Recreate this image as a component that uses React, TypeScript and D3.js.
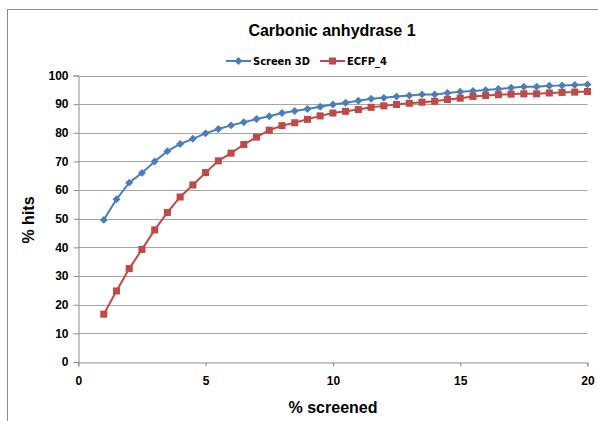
import React, { useRef, useEffect } from 'react';
import * as d3 from 'd3';

const screened = [1, 1.5, 2, 2.5, 3, 3.5, 4, 4.5, 5, 5.5, 6, 6.5, 7, 7.5, 8, 8.5, 9, 9.5, 10,
    10.5, 11, 11.5, 12, 12.5, 13, 13.5, 14, 14.5, 15, 15.5, 16, 16.5, 17, 17.5, 18, 18.5, 19, 19.5, 20];

const screen3D = [49.6, 56.8, 62.6, 66.0, 70.0, 73.6, 76.1, 77.9, 79.8, 81.3, 82.6, 83.7, 84.8, 85.8, 86.9, 87.6, 88.3, 89.1, 89.9,
    90.5, 91.2, 91.9, 92.2, 92.7, 93.0, 93.4, 93.4, 93.9, 94.3, 94.6, 94.9, 95.3, 95.7, 96.1, 96.1, 96.4, 96.5, 96.7, 96.9];

const ecfp4 = [16.7, 24.8, 32.6, 39.3, 46.1, 52.2, 57.6, 61.8, 66.1, 70.2, 72.9, 75.9, 78.5, 80.9, 82.5, 83.5, 84.7, 85.9, 86.9,
    87.5, 88.1, 88.9, 89.4, 89.9, 90.3, 90.7, 91.0, 91.6, 92.1, 92.7, 93.0, 93.3, 93.5, 93.6, 93.6, 93.9, 94.1, 94.2, 94.4];

const xTicks = [0, 5, 10, 15, 20];
const yTicks = [0, 10, 20, 30, 40, 50, 60, 70, 80, 90, 100];

const seriesNames = ['Screen 3D', 'ECFP_4'];
const seriesColors = ['#4a7ebb', '#be4b48'];

const W = 598;
const H = 421;

const App: React.FC = () => {
    const svgRef = useRef<SVGSVGElement | null>(null);

    useEffect(() => {
        const svg = d3.select(svgRef.current);
        svg.selectAll('*').remove();

        const x = d3.scaleLinear().domain([0, 20]).range([78.3, 587.5]);
        const y = d3.scaleLinear().domain([0, 100]).range([362, 75.5]);

        // chart frame
        svg.append('rect')
            .attr('x', 7.5).attr('y', 9.5)
            .attr('width', 620).attr('height', 440)
            .attr('fill', 'white')
            .attr('stroke', '#8c8c8c')
            .attr('stroke-width', 1);

        // gridlines
        svg.append('g')
            .selectAll('line')
            .data(yTicks.filter(t => t > 0))
            .enter().append('line')
            .attr('x1', x(0)).attr('x2', x(20))
            .attr('y1', d => Math.round(y(d)) + 0.5)
            .attr('y2', d => Math.round(y(d)) + 0.5)
            .attr('stroke', '#a6a6a6')
            .attr('stroke-width', 1);

        const tickFont = 'Arial, "Liberation Sans", sans-serif';

        // y axis
        const yAxis = d3.axisLeft(y).tickValues(yTicks).tickSize(5).tickPadding(5).tickFormat(d3.format('d'));
        const gy = svg.append('g')
            .attr('transform', `translate(${Math.round(x(0)) + 0.5},0)`)
            .call(yAxis);
        gy.select('.domain').attr('stroke', '#8c8c8c');
        gy.selectAll('.tick line').attr('stroke', '#8c8c8c');
        gy.selectAll('.tick text')
            .attr('font-family', tickFont)
            .attr('font-weight', 'bold')
            .attr('font-size', 12)
            .attr('fill', '#000');

        // x axis
        const xAxis = d3.axisBottom(x).tickValues(xTicks).tickSize(4).tickPadding(10).tickFormat(d3.format('d'));
        const gx = svg.append('g')
            .attr('transform', `translate(0,${Math.round(y(0)) + 0.5})`)
            .call(xAxis);
        gx.select('.domain').attr('stroke', '#8c8c8c');
        gx.selectAll('.tick line').attr('stroke', '#8c8c8c');
        gx.selectAll('.tick text')
            .attr('font-family', tickFont)
            .attr('font-weight', 'bold')
            .attr('font-size', 12)
            .attr('fill', '#000');

        const allSeries = [screen3D, ecfp4];
        const line = d3.line<number>()
            .x((_, i) => x(screened[i]))
            .y(d => y(d));

        allSeries.forEach((vals, si) => {
            svg.append('path')
                .datum(vals)
                .attr('d', line)
                .attr('fill', 'none')
                .attr('stroke', seriesColors[si])
                .attr('stroke-width', 2);

            const sym = si === 0
                ? d3.symbol().type(d3.symbolDiamond2).size(40)
                : d3.symbol().type(d3.symbolSquare).size(50);
            svg.append('g')
                .selectAll('path')
                .data(vals)
                .enter().append('path')
                .attr('d', sym)
                .attr('transform', (d, i) => `translate(${x(screened[i])},${y(d)})`)
                .attr('fill', seriesColors[si]);
        });

        // title
        svg.append('text')
            .attr('x', 332).attr('y', 36)
            .attr('text-anchor', 'middle')
            .attr('font-family', tickFont)
            .attr('font-weight', 'bold')
            .attr('font-size', 16)
            .text('Carbonic anhydrase 1');

        // legend
        const legendX = [226, 320];
        seriesNames.forEach((name, si) => {
            const lg = svg.append('g').attr('transform', `translate(${legendX[si]},61)`);
            lg.append('line')
                .attr('x1', 0).attr('x2', 25)
                .attr('stroke', seriesColors[si])
                .attr('stroke-width', 2);
            const sym = si === 0
                ? d3.symbol().type(d3.symbolDiamond2).size(40)
                : d3.symbol().type(d3.symbolSquare).size(50);
            lg.append('path')
                .attr('d', sym)
                .attr('transform', 'translate(12.5,0)')
                .attr('fill', seriesColors[si]);
            lg.append('text')
                .attr('x', 27).attr('y', 4)
                .attr('font-family', '"DejaVu Sans Condensed", "Liberation Sans Narrow", sans-serif')
                .attr('font-stretch', 'condensed')
                .attr('font-weight', 'bold')
                .attr('font-size', 11)
                .text(name);
        });

        // axis titles
        svg.append('text')
            .attr('x', 333).attr('y', 413)
            .attr('text-anchor', 'middle')
            .attr('font-family', tickFont)
            .attr('font-weight', 'bold')
            .attr('font-size', 16)
            .text('% screened');

        svg.append('text')
            .attr('transform', 'translate(34,220) rotate(-90)')
            .attr('text-anchor', 'middle')
            .attr('font-family', tickFont)
            .attr('font-weight', 'bold')
            .attr('font-size', 16)
            .text('% hits');
    }, []);

    return (
        <svg
            ref={svgRef}
            width={W}
            height={H}
            style={{ position: 'absolute', left: 0, top: 0, background: 'white' }}
        ></svg>
    );
};

export default App;
